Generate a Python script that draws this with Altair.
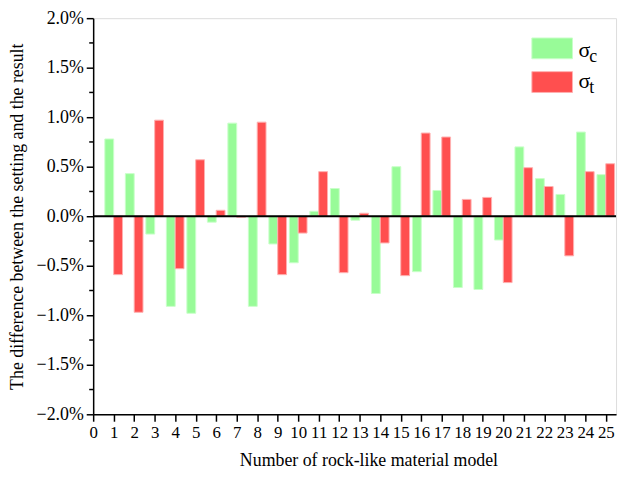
import altair as alt
import pandas as pd

models = list(range(1, 26))
sigma_c = [0.78, 0.43, -0.18, -0.91, -0.98, -0.06, 0.94, -0.91, -0.28, -0.47,
           0.05, 0.28, -0.04, -0.78, 0.50, -0.56, 0.26, -0.72, -0.74, -0.24,
           0.70, 0.38, 0.22, 0.85, 0.42]
sigma_t = [-0.59, -0.97, 0.97, -0.53, 0.57, 0.06, -0.01, 0.95, -0.59, -0.17,
           0.45, -0.57, 0.03, -0.27, -0.60, 0.84, 0.80, 0.17, 0.19, -0.67,
           0.49, 0.30, -0.40, 0.45, 0.53]
x_ticks = list(range(0, 26))
y_ticks = [-0.02, -0.015, -0.01, -0.005, 0.0, 0.005, 0.01, 0.015, 0.02]
y_minor = [-0.0175, -0.0125, -0.0075, -0.0025, 0.0025, 0.0075, 0.0125, 0.0175]

BW = 0.43
rows = []
for m, c, t in zip(models, sigma_c, sigma_t):
    rows.append({"model": m, "series": "c", "x0": m - BW, "x1": m, "v": c / 100})
    rows.append({"model": m, "series": "t", "x0": m, "x1": m + BW, "v": t / 100})
df = pd.DataFrame(rows)

FONT = "Liberation Serif"
xscale = alt.Scale(domain=[0, 25.5], nice=False, zero=False)
yscale = alt.Scale(domain=[-0.02, 0.02], nice=False)

bars = alt.Chart(df).mark_rect(strokeWidth=1).encode(
    x=alt.X("x0:Q", scale=xscale,
            axis=alt.Axis(values=x_ticks, format="d", title="Number of rock-like material model",
                          titleFontSize=18, titleFont=FONT, titleFontWeight="normal",
                          titleColor="black", titlePadding=12, titleX=278, titleAlign="center",
                          labelFont=FONT, labelFontSize=17, labelColor="black",
                          labelPadding=3, labelOverlap=False, labelFlush=False,
                          domainColor="black", domainWidth=1.5, tickColor="black",
                          tickWidth=1.5, tickSize=7, grid=False)),
    x2="x1:Q",
    y=alt.Y("v:Q", scale=yscale,
            axis=alt.Axis(values=y_ticks, format=".1%",
                          title="The difference between the setting and the result",
                          titleFontSize=18, titleFont=FONT, titleFontWeight="normal",
                          titleColor="black", titlePadding=10,
                          labelFont=FONT, labelFontSize=18, labelColor="black",
                          labelPadding=3, labelFlush=False,
                          domainColor="black", domainWidth=1.5, tickColor="black",
                          tickWidth=1.5, tickSize=7, grid=False)),
    y2=alt.datum(0),
    color=alt.Color("series:N", scale=alt.Scale(domain=["c", "t"], range=["#98FB98", "#FF4F4F"]),
                    legend=None),
    stroke=alt.Stroke("series:N", scale=alt.Scale(domain=["c", "t"], range=["#C8FFC8", "#FFB0B0"]),
                      legend=None),
)

zero = alt.Chart(pd.DataFrame({"y": [0.0]})).mark_rule(color="black", strokeWidth=2).encode(
    y=alt.Y("y:Q", scale=yscale), x=alt.value(0), x2=alt.value(528)
)

minor = alt.Chart(pd.DataFrame({"y": y_minor})).mark_rule(color="black", strokeWidth=1.5).encode(
    y=alt.Y("y:Q", scale=yscale), x=alt.value(-4), x2=alt.value(0)
)

leg = pd.DataFrame({
    "sym": ["σ", "σ"], "sub": ["c", "t"], "series": ["c", "t"],
    "ry": [20, 54], "ry2": [41, 75], "ty": [39, 71], "sy": [44, 76],
})
leg_rect = alt.Chart(leg).mark_rect(strokeWidth=1).encode(
    x=alt.value(443), x2=alt.value(484), y=alt.Y("ry:Q", scale=None), y2="ry2:Q",
    color=alt.Color("series:N", scale=alt.Scale(domain=["c", "t"], range=["#98FB98", "#FF4F4F"]), legend=None),
    stroke=alt.Stroke("series:N", scale=alt.Scale(domain=["c", "t"], range=["#C8FFC8", "#FFB0B0"]), legend=None),
)
leg_sym = alt.Chart(leg).mark_text(font=FONT, fontSize=22, align="left", baseline="alphabetic",
                                   color="black").encode(
    x=alt.value(490), y=alt.Y("ty:Q", scale=None), text="sym:N")
leg_sub = alt.Chart(leg).mark_text(font=FONT, fontSize=18, align="left", baseline="alphabetic",
                                   color="black").encode(
    x=alt.value(501), y=alt.Y("sy:Q", scale=None), text="sub:N")

chart = alt.layer(bars, zero, minor, leg_rect, leg_sym, leg_sub).properties(
    width=528, height=400,
    autosize=alt.AutoSizeParams(type="none"),
    padding={"left": 86, "top": 8, "right": 5, "bottom": 55},
).configure_view(stroke=None).configure(background="white", font=FONT).configure_axis(
    labelFont=FONT, titleFont=FONT
)

chart.save("out.html", embed_options={"renderer": "svg", "actions": False})
